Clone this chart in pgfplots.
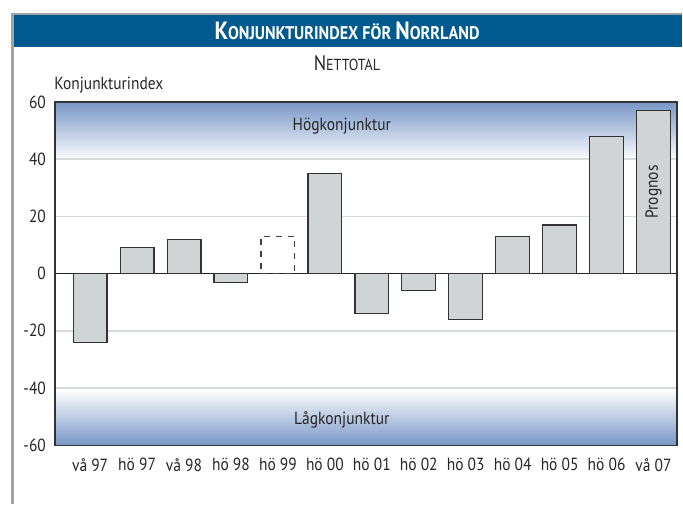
\documentclass[border=0pt]{standalone}
\usepackage{pgfplots}
\pgfplotsset{compat=1.18}
\usepackage{fontspec}
\setmainfont{PT Sans}[FakeStretch=0.88]
\definecolor{banner}{RGB}{0,90,143}
\definecolor{band}{RGB}{120,150,198}
\definecolor{barfill}{RGB}{208,212,212}
\definecolor{gridc}{RGB}{216,220,220}
\definecolor{framec}{RGB}{160,164,164}
\begin{document}
\begin{tikzpicture}
  % page frame (bounding box only, no fill so the axis layers stay visible)
  \path (0,0) rectangle (341.5pt,252.5pt);
  \fill[banner] (6pt,229pt) rectangle (341.5pt,245.5pt);
  \draw[framec, line width=1pt] (6pt,245.5pt) -- (341.5pt,245.5pt);
  \draw[framec, line width=1.5pt] (6.5pt,0) -- (6.5pt,246pt);
  \node[white, font=\bfseries] at (173.75pt,237.2pt)
    {{\fontsize{12.5}{12.5}\selectfont K}{\fontsize{9.2}{9.5}\selectfont ONJUNKTURINDEX FÖR }{\fontsize{12.5}{12.5}\selectfont N}{\fontsize{9.2}{9.5}\selectfont ORRLAND}};
  \node[black!85] at (173.75pt,221pt)
    {{\fontsize{10.5}{10.5}\selectfont N}{\fontsize{8}{8}\selectfont ETTOTAL}};
  \begin{axis}[
      set layers,
      clip=false,
      scale only axis,
      width=311.5pt, height=172pt,
      at={(27.5pt,29.5pt)}, anchor=south west,
      xmin=-0.75, xmax=12.5,
      ymin=-60, ymax=60,
      ytick={-60,-40,...,60},
      xtick={0,...,12},
      xticklabels={vå 97,hö 97,vå 98,hö 98,hö 99,hö 00,hö 01,hö 02,hö 03,hö 04,hö 05,hö 06,vå 07},
      major tick length=0pt,
      ymajorgrids,
      major grid style={gridc, line width=0.8pt},
      extra y ticks={0},
      extra y tick labels={},
      extra y tick style={grid=major, major grid style={black!85, line width=0.6pt}},
      axis line style={black!80, line width=0.8pt},
      tick label style={font=\fontsize{8.8}{9}\selectfont, text=black!85},
      /pgf/number format/assume math mode=true,
      xticklabel style={yshift=-3pt},
      yticklabel style={xshift=-1pt},
      ybar, bar width=0.72, bar shift=0pt,
    ]
    \begin{pgfonlayer}{axis background}
      \shade[top color=band, bottom color=white]
        (axis cs:-0.75,60) rectangle (axis cs:12.5,39.5);
      \shade[top color=white, bottom color=band]
        (axis cs:-0.75,-40.5) rectangle (axis cs:12.5,-60);
    \end{pgfonlayer}
    \addplot[fill=barfill, draw=black!80, line width=0.6pt]
      coordinates {
        (0,-24) (1,9) (2,12) (3,-3) (5,35) (6,-14) (7,-6)
        (8,-16) (9,13) (10,17) (11,48) (12,57)
      };
    \addplot[fill=none, draw=black!75, dashed, line width=0.6pt]
      coordinates {(4,13)};
    \node[font=\fontsize{8.8}{9}\selectfont, text=black!85] at (axis cs:5.36,51.5) {Högkonjunktur};
    \node[font=\fontsize{8.8}{9}\selectfont, text=black!85] at (axis cs:5.36,-51) {Lågkonjunktur};
    \node[font=\fontsize{8.8}{9}\selectfont, text=black!85, rotate=90] at (axis cs:12,28.5) {Prognos};
    \node[font=\fontsize{8.8}{9}\selectfont, text=black!85, anchor=south west, inner sep=0pt]
      at (axis cs:-0.77,63) {Konjunkturindex};
  \end{axis}
\end{tikzpicture}
\end{document}
